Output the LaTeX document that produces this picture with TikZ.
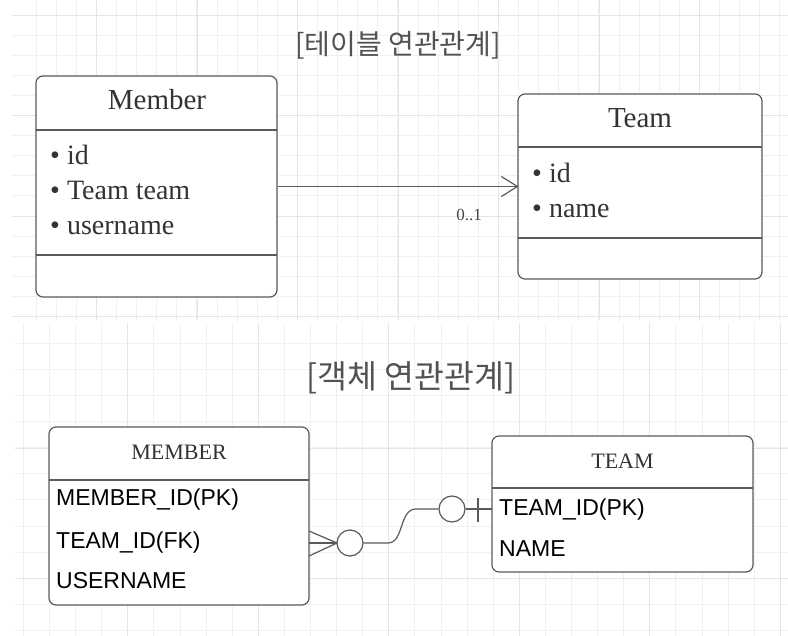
\documentclass[tikz,border=0pt]{standalone}
\usepackage{fontspec}
\usetikzlibrary{calc}
\setmainfont{Liberation Serif}
\newfontfamily\arialf{Liberation Sans}
\newfontfamily\krf{Noto Sans CJK KR}
\definecolor{gridminor}{HTML}{F1F1F1}
\definecolor{gridmajor}{HTML}{E5E5E5}
\definecolor{ink}{HTML}{333333}
\definecolor{edge}{HTML}{5A5A5A}
\tikzset{
  box/.style={draw=edge, line width=1.2pt, rounded corners=7pt, fill=white, inner sep=0pt},
  divider/.style={draw=edge, line width=1.2pt},
  conn/.style={draw=edge, line width=1.2pt},
  ttl/.style={font=\fontsize{29}{34}\selectfont, text=ink, inner sep=0pt, anchor=base},
  attr/.style={font=\fontsize{28}{33}\selectfont, text=ink, inner sep=0pt, anchor=base west},
  ettl/.style={font=\fontsize{22}{26}\selectfont, text=ink, inner sep=0pt, anchor=base},
  eattr/.style={font=\arialf\fontsize{23}{27}\selectfont, text=black, inner sep=0pt, anchor=base west},
  krtitle/.style={text=ink!85, inner sep=0pt},
  mult/.style={font=\fontsize{17}{20}\selectfont, text=ink!90, inner sep=0pt},
  gmin/.style={draw=gridminor, line width=0.8pt},
  gmaj/.style={draw=gridmajor, line width=0.8pt}
}
\begin{document}
\begin{tikzpicture}[x=1pt,y=-1pt]
\useasboundingbox (0,0) rectangle (788,636);
\fill[white] (0,0) rectangle (788,636);
% ---- top grid ----
\foreach \i in {0,...,37} { \draw[gmin] ({36+20.1*\i},0) -- ({36+20.1*\i},320); }
\foreach \j in {0,...,15} { \draw[gmin] (12,{15+20.1*\j}) -- (788,{15+20.1*\j}); }
\foreach \i in {0,...,6} { \draw[gmaj] ({96.7+100.5*\i},0) -- ({96.7+100.5*\i},320); }
\foreach \j in {0,...,3} { \draw[gmaj] (12,{15+100.5*\j}) -- (788,{15+100.5*\j}); }
% ---- bottom grid ----
\foreach \i in {0,...,29} { \draw[gmin] ({23.3+26.1*\i},323) -- ({23.3+26.1*\i},636); }
\foreach \j in {0,...,11} { \draw[gmin] (15,{343.3+26.1*\j}) -- (788,{343.3+26.1*\j}); }
\foreach \i in {0,...,5} { \draw[gmaj] ({127.7+130.5*\i},323) -- ({127.7+130.5*\i},636); }
\foreach \j in {0,1} { \draw[gmaj] (15,{448+130.5*\j}) -- (788,{448+130.5*\j}); }

% ---- top titles ----
\node[krtitle, font=\krf\fontsize{28}{33}\selectfont] (t1) at (398,45) {[테이블 연관관계]};

% ---- Member class ----
\node[box, minimum width=241pt, minimum height=221pt] (member) at (156.5,186.5) {};
\draw[divider] (36,130) -- (277,130);
\draw[divider] (36,255) -- (277,255);
\node[ttl] (membert) at (157,110) {Member};
\node[attr] (ma1) at (50,165) {• id};
\node[attr] (ma2) at (50,200) {• Team team};
\node[attr] (ma3) at (50,235) {• username};

% ---- Team class ----
\node[box, minimum width=244pt, minimum height=185pt] (team) at (640,186.5) {};
\draw[divider] (518,147) -- (762,147);
\draw[divider] (518,238) -- (762,238);
\node[ttl] (teamt) at (640,128) {Team};
\node[attr] (ta1) at (532,183) {• id};
\node[attr] (ta2) at (532,218) {• name};

% ---- association ----
\draw[conn] (member.east) -- (team.west);
\draw[conn] ($(team.west)+(-16,-10)$) -- (team.west) -- ($(team.west)+(-16,10)$);
\node[mult] (m01) at (469,215) {0..1};

% ---- bottom title ----
\node[krtitle, font=\krf\fontsize{32.5}{38}\selectfont] (t2) at (411,378) {[객체 연관관계]};

% ---- MEMBER entity ----
\node[box, minimum width=260pt, minimum height=178pt] (emember) at (179,516) {};
\draw[divider] (49,480) -- (309,480);
\node[ettl] (emembert) at (179,460) {MEMBER};
\node[eattr] (ea1) at (56,505) {MEMBER\_ID(PK)};
\node[eattr] (ea2) at (56,548) {TEAM\_ID(FK)};
\node[eattr] (ea3) at (56,588) {USERNAME};

% ---- TEAM entity ----
\node[box, minimum width=261pt, minimum height=136pt] (eteam) at (622.5,504) {};
\draw[divider] (492,488) -- (753,488);
\node[ettl] (eteamt) at (622.5,469) {TEAM};
\node[eattr] (eb1) at (499,515) {TEAM\_ID(PK)};
\node[eattr] (eb2) at (499,556) {NAME};

% ---- relationship ----
\coordinate (fk) at (309,543);
\coordinate (pk) at (492,509);
\coordinate (tip) at (337,543);
\node[circle, draw=edge, line width=1.2pt, fill=white, minimum size=26pt, inner sep=0pt] (c1) at (350,543) {};
\node[circle, draw=edge, line width=1.2pt, fill=white, minimum size=26pt, inner sep=0pt] (c2) at (452,509) {};
\draw[conn] ($(fk)+(0,-12)$) -- (tip) -- ($(fk)+(0,13)$);
\draw[conn] (fk) -- (c1.west);
\draw[conn] (c1.east) -- (388,543) .. controls (404,543) and (399,509) .. (416,509) -- (c2.west);
\draw[conn] (c2.east) -- (pk);
\draw[conn] (478,498) -- (478,522);
\end{tikzpicture}
\end{document}
